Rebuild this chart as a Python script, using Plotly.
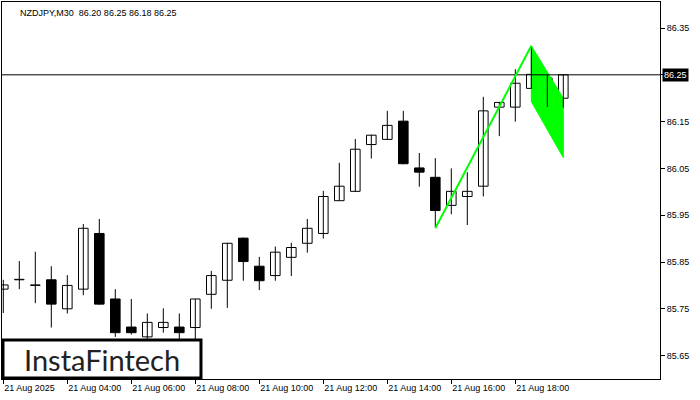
import plotly.graph_objects as go
import pandas as pd

# ---------------- data ----------------
title_text = "NZDJPY,M30  86.20 86.25 86.18 86.25"
times = pd.date_range("2025-08-21 02:00", periods=36, freq="30min")

opens = [85.792, 85.812, 85.800, 85.812, 85.750, 85.792, 85.911, 85.771, 85.711, 85.690,
         85.710, 85.711, 85.710, 85.781, 85.811, 85.901, 85.841, 85.821, 85.860, 85.890,
         85.911, 85.981, 86.001, 86.101, 86.112, 86.151, 86.051, 86.031, 85.971, 85.990,
         86.012, 86.181, 86.181, 86.221, 86.243, 86.200]
highs = [85.812, 85.852, 85.872, 85.841, 85.822, 85.931, 85.942, 85.792, 85.771, 85.740,
         85.751, 85.740, 85.771, 85.831, 85.891, 85.902, 85.861, 85.883, 85.891, 85.942,
         86.002, 86.062, 86.113, 86.122, 86.173, 86.173, 86.083, 86.072, 86.050, 86.042,
         86.203, 86.192, 86.262, 86.310, 86.251, 86.250]
lows = [85.741, 85.792, 85.762, 85.710, 85.740, 85.779, 85.759, 85.690, 85.695, 85.680,
        85.699, 85.682, 85.680, 85.750, 85.752, 85.810, 85.790, 85.810, 85.820, 85.870,
        85.900, 85.981, 86.000, 86.071, 86.111, 86.059, 86.011, 85.924, 85.952, 85.929,
        85.990, 86.119, 86.150, 86.220, 86.181, 86.180]
closes = [85.801, 85.813, 85.801, 85.760, 85.800, 85.922, 85.760, 85.699, 85.699, 85.721,
          85.721, 85.699, 85.771, 85.821, 85.890, 85.851, 85.810, 85.871, 85.881, 85.922,
          85.990, 86.012, 86.091, 86.121, 86.142, 86.060, 86.042, 85.960, 86.001, 86.001,
          86.173, 86.191, 86.232, 86.251, 86.191, 86.250]

tick_times = ["2025-08-21 02:00", "2025-08-21 04:00", "2025-08-21 06:00", "2025-08-21 08:00",
              "2025-08-21 10:00", "2025-08-21 12:00", "2025-08-21 14:00", "2025-08-21 16:00",
              "2025-08-21 18:00"]
tick_labels = ["21 Aug 2025", "21 Aug 04:00", "21 Aug 06:00", "21 Aug 08:00",
               "21 Aug 10:00", "21 Aug 12:00", "21 Aug 14:00", "21 Aug 16:00",
               "21 Aug 18:00"]
price_ticks = [85.65, 85.75, 85.85, 85.95, 86.05, 86.15, 86.25, 86.35]
last_price = 86.25

pole_times = [times[27], times[33]]
pole_prices = [85.922, 86.312]
flag_times = [times[33], times[35], times[35], times[33]]
flag_prices = [86.312, 86.200, 86.073, 86.193]

logo_text = "InstaFintech"

# ---------------- figure ----------------
fig = go.Figure()

# flag (under candles)
fig.add_trace(go.Scatter(x=flag_times + [flag_times[0]], y=flag_prices + [flag_prices[0]],
                         mode="lines", fill="toself", fillcolor="#00FF00",
                         line=dict(color="#00FF00", width=1), hoverinfo="skip"))

# wicks
wx, wy = [], []
for t, h, l in zip(times, highs, lows):
    wx += [t, t, None]
    wy += [l, h, None]
fig.add_trace(go.Scatter(x=wx, y=wy, mode="lines", line=dict(color="black", width=1),
                         hoverinfo="skip"))

# bodies
bases = [min(o, c) for o, c in zip(opens, closes)]
heights = [max(abs(c - o), 0.0008) for o, c in zip(opens, closes)]
colors = ["white" if c >= o else "black" for o, c in zip(opens, closes)]
fig.add_trace(go.Bar(x=times, y=heights, base=bases, width=1080000,
                     marker=dict(color=colors, line=dict(color="black", width=1)),
                     hoverinfo="skip"))

y_ticktext = ["" if abs(v - last_price) < 1e-9 else f"{v:.2f}" for v in price_ticks]

fig.update_layout(
    width=700, height=400,
    margin=dict(l=2, r=40, t=2, b=21),
    paper_bgcolor="white", plot_bgcolor="white",
    showlegend=False, barmode="overlay",
    font=dict(family="Liberation Sans", size=9, color="black"),
    xaxis=dict(type="date", range=["2025-08-21 01:57:34", "2025-08-21 22:31:19"],
               showgrid=False, zeroline=False, showline=True, mirror=True,
               linecolor="black", linewidth=1, ticks="outside", ticklen=4,
               tickcolor="black", tickvals=tick_times, ticktext=tick_labels,
               ticklabelposition="outside right", tickfont=dict(size=9)),
    yaxis=dict(range=[85.600, 86.4056], side="right", showgrid=False, zeroline=False,
               showline=True, mirror=True, linecolor="black", linewidth=1,
               ticks="outside", ticklen=4, tickcolor="black", tickvals=price_ticks,
               ticktext=y_ticktext, tickfont=dict(size=9)),
)

# current price line
fig.add_shape(type="line", xref="paper", x0=0, x1=1, yref="y", y0=last_price, y1=last_price,
              line=dict(color="black", width=1))

# flag pole (above candles)
fig.add_shape(type="line", xref="x", yref="y", x0=pole_times[0], y0=pole_prices[0],
              x1=pole_times[1], y1=pole_prices[1], line=dict(color="#00FF00", width=2),
              layer="above")

# price label on axis
fig.add_annotation(xref="paper", x=1, xanchor="left", xshift=2, yref="y", y=last_price,
                   yanchor="middle", text=f"{last_price:.2f}", showarrow=False, bgcolor="black",
                   font=dict(color="white", size=9, family="Liberation Sans"), borderpad=1)

# title
fig.add_annotation(xref="paper", yref="paper", x=0, y=1, xanchor="left", yanchor="top",
                   xshift=16, yshift=-4, text=title_text, showarrow=False,
                   font=dict(size=9, color="black", family="Liberation Sans"))

# logo
fig.add_shape(type="rect", xref="paper", yref="paper", x0=0.0015, x1=0.3024, y0=0.0027, y1=0.1034,
              fillcolor="white", line=dict(color="black", width=3), layer="above")
fig.add_annotation(xref="paper", yref="paper", x=0.152, y=0.053, xanchor="center",
                   yanchor="middle", text=logo_text, showarrow=False,
                   font=dict(size=29, color="#222222", family="Lato"))

fig.write_html("out.html", config={"displayModeBar": False},
               post_script="document.body.style.margin='0';")
